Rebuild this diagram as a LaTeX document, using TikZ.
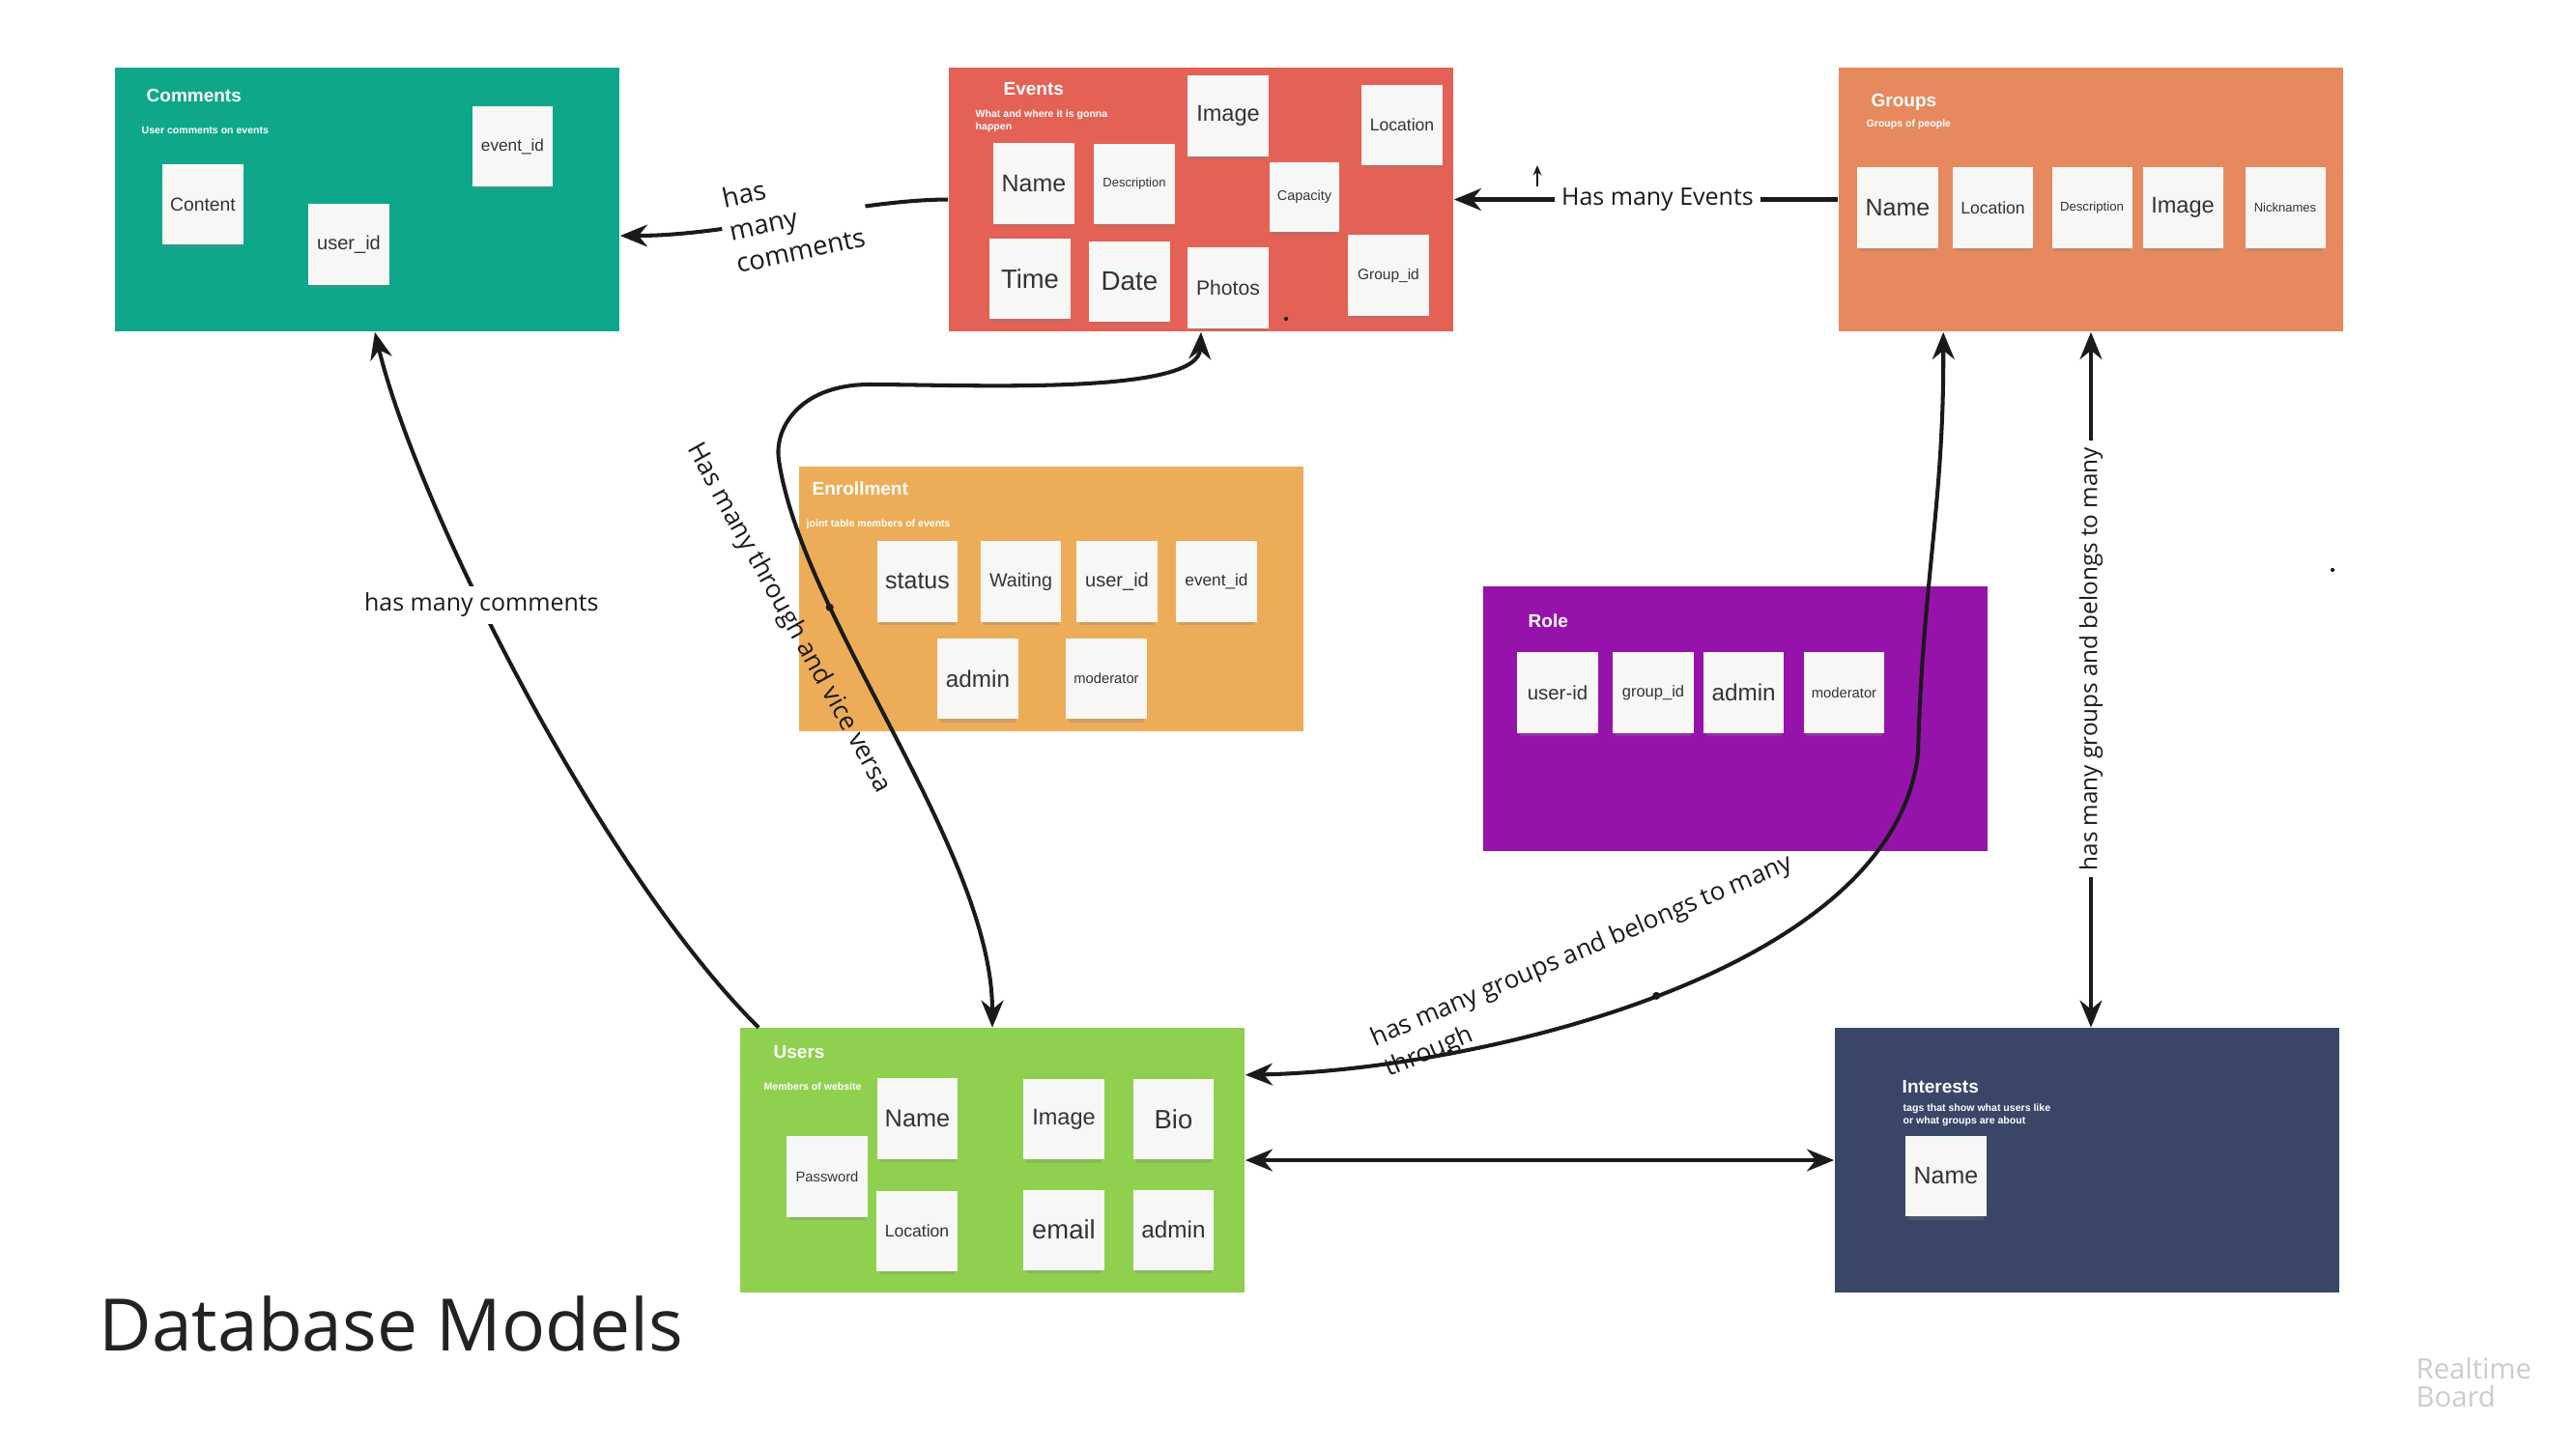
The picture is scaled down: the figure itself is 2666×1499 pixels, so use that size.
\documentclass[tikz,border=0pt]{standalone}
\usepackage{fontspec}
\setmainfont{Liberation Sans}
\newfontfamily\opensans{Open Sans}
\usepackage{tikz}
\usetikzlibrary{arrows.meta,positioning,calc,shadows}
\definecolor{tealComments}{RGB}{14,167,137}
\definecolor{redEvents}{RGB}{228,97,86}
\definecolor{orangeGroups}{RGB}{230,137,94}
\definecolor{yellowEnroll}{RGB}{237,173,88}
\definecolor{purpleRole}{RGB}{150,19,171}
\definecolor{greenUsers}{RGB}{143,209,79}
\definecolor{navyInterests}{RGB}{57,70,103}
\definecolor{paper}{RGB}{247,247,246}
\definecolor{ink}{RGB}{51,51,51}
\definecolor{wire}{RGB}{26,26,26}
\definecolor{headline}{RGB}{34,34,34}
\definecolor{watermark}{RGB}{204,204,204}

\begin{document}
\begin{tikzpicture}[x=0.01cm,y=-0.01cm,>={Stealth[length=8pt,width=6.5pt]},
  board/.style={rectangle,minimum width=5.22cm,minimum height=2.73cm,inner sep=0pt},
  boardTitle/.style={anchor=west,inner sep=0pt,text=white,font=\bfseries\fontsize{5.4}{6.5}\selectfont},
  boardNote/.style={anchor=west,inner sep=0pt,text=white,align=left,font=\bfseries\fontsize{3}{3.6}\selectfont},
  sticky/.style={rectangle,fill=paper,minimum size=0.83cm,inner sep=0pt,text=ink,
                 font=\fontsize{#1}{#1}\selectfont,
                 drop shadow={shadow xshift=0pt,shadow yshift=-1.8pt,shadow scale=0.94,opacity=0.3}},
  rel/.style={draw=wire,line width=1.15pt,->},
  relBoth/.style={draw=wire,line width=1.15pt,<->},
  relText/.style={text=wire,inner sep=2pt,font=\opensans\fontsize{#1}{9.8}\selectfont},
  handle/.style={circle,fill=wire,inner sep=0pt,minimum size=2.3pt}]

  \path[use as bounding box,fill=white] (0,0) rectangle (2666,1499);

  % boards
  \node[board,fill=tealComments] (comments) at (380,206.5) {};
  \node[board,fill=redEvents] (events) at (1243,206.5) {};
  \node[board,fill=orangeGroups] (groups) at (2164,206.5) {};
  \node[board,fill=yellowEnroll] (enroll) at (1088,620) {};
  \node[board,fill=purpleRole] (role) at (1796,744) {};
  \node[board,fill=greenUsers] (users) at (1027,1201) {};
  \node[board,fill=navyInterests] (interests) at (2160,1201) {};

  % comments
  \node[boardTitle] (commentsTitle) at (151,99) {Comments};
  \node[boardNote] (commentsSub) at (146,135) {User comments on events};
  \node[sticky=5.5] (cmContent) at (210,211.5) {Content};
  \node[sticky=5.7] (cmUser) at (361,253) {user\_id};
  \node[sticky=4.9] (cmEvent) at (530.5,151.5) {event\_id};

  % events
  \node[boardTitle] (eventsTitle) at (1038,92) {Events};
  \node[boardNote] (eventsSub) at (1009,125) {What and where it is gonna\\happen};
  \node[sticky=6.7] (evImage) at (1271,120) {Image};
  \node[sticky=5.0] (evLocation) at (1451,129.5) {Location};
  \node[sticky=7.1] (evName) at (1070,190) {Name};
  \node[sticky=3.7] (evDesc) at (1174,190.5) {Description};
  \node[sticky=4.1,minimum size=0.72cm] (evCapacity) at (1350,204) {Capacity};
  \node[sticky=7.8] (evTime) at (1066,288.7) {Time};
  \node[sticky=7.9] (evDate) at (1169,291.5) {Date};
  \node[sticky=6.0] (evPhotos) at (1271,298) {Photos};
  \node[sticky=4.4] (evGroup) at (1437,285) {Group\_id};

  % groups
  \node[boardTitle] (groupsTitle) at (1936,106) {Groups};
  \node[boardNote] (groupsSub) at (1931,129) {Groups of people};
  \node[sticky=7.1] (grName) at (1964,215) {Name};
  \node[sticky=5.0] (grLocation) at (2062.5,215) {Location};
  \node[sticky=3.75] (grDesc) at (2165,215) {Description};
  \node[sticky=6.7] (grImage) at (2259,215) {Image};
  \node[sticky=3.7] (grNick) at (2365,215) {Nicknames};

  % enrollment
  \node[boardTitle] (enrollTitle) at (840,506) {Enrollment};
  \node[boardNote] (enrollSub) at (834,543) {joint table members of events};
  \node[sticky=7.1] (enStatus) at (949.5,602) {status};
  \node[sticky=5.6] (enWaiting) at (1056.5,602) {Waiting};
  \node[sticky=5.7] (enUser) at (1156,602) {user\_id};
  \node[sticky=4.9] (enEvent) at (1259,602) {event\_id};
  \node[sticky=6.9] (enAdmin) at (1012,702.5) {admin};
  \node[sticky=4.2] (enModer) at (1145,702.5) {moderator};

  % role
  \node[boardTitle] (roleTitle) at (1581,643) {Role};
  \node[sticky=5.8] (roUser) at (1612,717) {user-id};
  \node[sticky=4.7] (roGroup) at (1711,717) {group\_id};
  \node[sticky=6.9] (roAdmin) at (1804.6,717) {admin};
  \node[sticky=4.2] (roModer) at (1908.5,717) {moderator};

  % users
  \node[boardTitle] (usersTitle) at (800,1089) {Users};
  \node[boardNote] (usersSub) at (790,1125) {Members of website};
  \node[sticky=7.2] (usName) at (949.5,1158) {Name};
  \node[sticky=4.2] (usPassword) at (856,1218) {Password};
  \node[sticky=6.7] (usImage) at (1101,1158.5) {Image};
  \node[sticky=7.8] (usBio) at (1214.5,1158.5) {Bio};
  \node[sticky=5.0] (usLocation) at (949,1274) {Location};
  \node[sticky=7.8] (usEmail) at (1101,1273) {email};
  \node[sticky=6.9] (usAdmin) at (1214.5,1273) {admin};

  % interests
  \node[boardTitle] (interestsTitle) at (1968,1125) {Interests};
  \node[boardNote] (interestsSub) at (1969,1154.5) {tags that show what users like\\or what groups are about};
  \node[sticky=7.1] (inName) at (2014,1217.5) {Name};

  \node[handle,minimum size=1.2pt] (dotEvents) at (1331,330) {};
  \node[handle,minimum size=1.2pt] (dotRight) at (2414,590) {};

  % relations
  \draw[rel] (events.west) .. controls (880,207) and (760,244) .. ($(comments.east)+(0,37.5)$)
    node[relText=7.8,pos=0.49,fill=white,rotate=12,align=left] (lblEvCm) {has\\many\\comments};

  \draw[rel] (groups.west) -- (events.east)
    node[relText=7.1,pos=0.47,fill=white] (lblGrEv) {Has many Events};
  \coordinate (tickFoot) at (1591,193);
  \coordinate (tickHead) at (1591,171);
  \draw[draw=wire,line width=0.5pt,-{Stealth[length=3pt,width=2.5pt]}] (tickFoot) -- (tickHead);

  \draw[rel] ($(users.north west)+(20,0)$) .. controls (620,900) and (430,520) .. ($(comments.south)+(8,0)$)
    node[relText=7.1,pos=0.6,fill=white] (lblUsCm) {has many comments};

  \draw[relBoth] (users.north) .. controls (1027,880) and (830,640) .. (806,476) node[handle,pos=0.72] (hdlThrough) {}
    .. controls (801,441) and (830,398) .. (900,398)
    .. controls (1000,398) and (1240,410) .. (events.south);
  \node[relText=7.5,rotate=-61] (lblUsEv) at (816,640) {Has many through and vice versa};

  \draw[relBoth] ($(groups.south west)+(109,0)$) .. controls (2012,520) and (1990,600) .. (1985,780)
    .. controls (1960,1010) and (1520,1108) .. ($(users.north east)+(0,49)$)
    node[handle,pos=0.5] (hdlGroupsA) {} node[handle,minimum size=1.8pt,pos=0.74] (hdlGroupsB) {};
  \node[relText=7.4,rotate=23,align=left,inner sep=0pt] (lblUsGr) at (1644,1001) {has many groups and belongs to many\\through};

  \draw[relBoth] (groups.south) -- (groups.south |- interests.north)
    node[relText=6.9,pos=0.47,fill=white,rotate=90] (lblGrIn) {has many groups and belongs to many};

  \draw[relBoth] (users.east) -- (interests.west);

  \node[anchor=base west,inner sep=0pt,text=headline,font=\opensans\fontsize{21.3}{25}\selectfont] (dbTitle) at (102,1398) {Database Models};
  \node[anchor=west,inner sep=0pt,align=left,text=watermark,font=\opensans\fontsize{8.3}{8.2}\selectfont] (rtbMark) at (2500,1431) {Realtime\\Board};
\end{tikzpicture}
\end{document}
